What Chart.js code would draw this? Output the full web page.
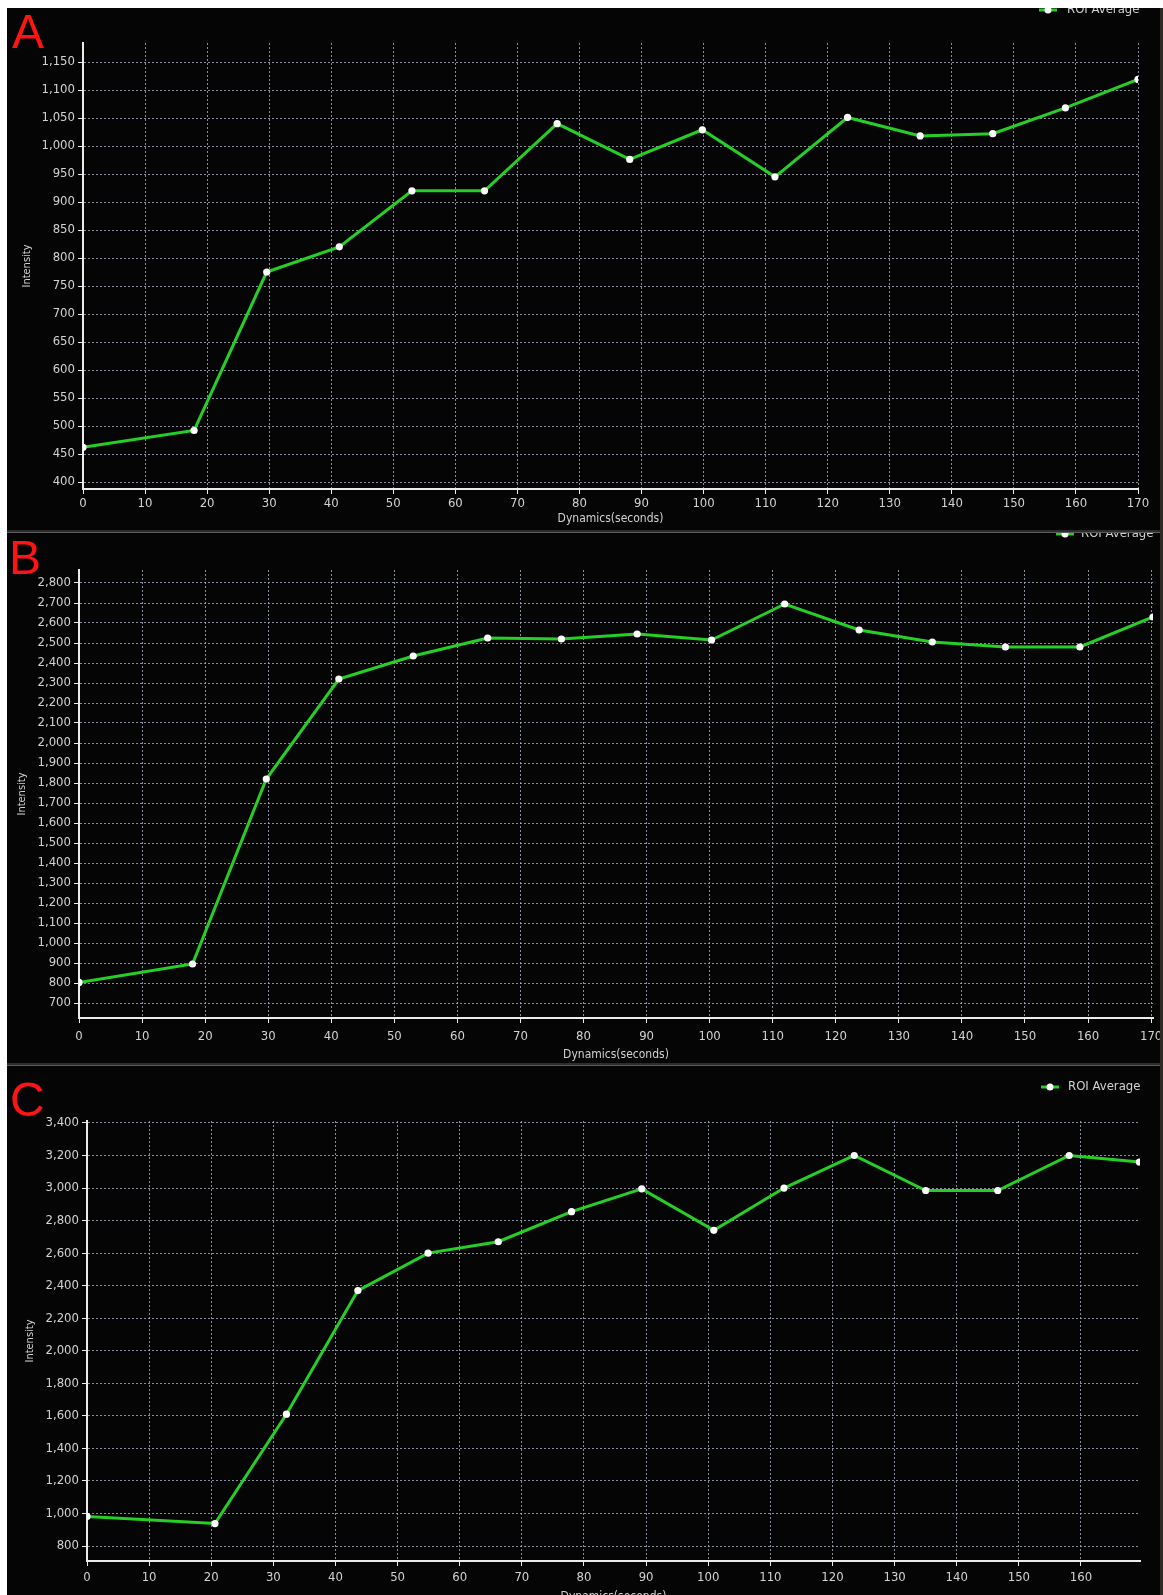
<!DOCTYPE html>
<html>
<head>
<meta charset="utf-8">
<title>ROI Average – Intensity vs Dynamics</title>
<script src="https://cdn.jsdelivr.net/npm/chart.js@4.4.1/dist/chart.umd.min.js"></script>
<style>
  html, body { margin: 0; padding: 0; background: #ffffff; }
  body { position: relative; width: 1163px; height: 1595px; overflow: hidden; }
  .panel { position: absolute; left: 7px; width: 1153px; background: #050505; overflow: hidden; }
  .panel canvas { position: absolute; left: 0; top: 0; }
  .tag { position: absolute; color: #ff1414; font: 48px "Liberation Sans", Arial, sans-serif; line-height: 1; }
  .sep { position: absolute; left: 7px; width: 1156px; height: 3px; background: #2c2c2c; border-bottom: 1px solid #5c5c5c; box-sizing: border-box; }
  .edge { position: absolute; left: 1160px; top: 8px; width: 3px; height: 1587px; background: #2e2a26; }
</style>
</head>
<body>
<div class="panel" id="pA" style="top:8px;height:522px;">
  <canvas id="cA"></canvas>
  <div class="tag" style="left:5px;top:0px;">A</div>
</div>
<div class="sep" style="top:530px;"></div>
<div class="panel" id="pB" style="top:533px;height:530px;">
  <canvas id="cB"></canvas>
  <div class="tag" style="left:2px;top:1px;">B</div>
</div>
<div class="sep" style="top:1063px;"></div>
<div class="panel" id="pC" style="top:1066px;height:529px;">
  <canvas id="cC"></canvas>
  <div class="tag" style="left:3px;top:10px;">C</div>
</div>
<div class="edge"></div>

<script>
// ---- data: time (s) of each dynamic and the ROI average intensity ----
const timesA = [0, 17.9, 29.6, 41.3, 53.0, 64.7, 76.4, 88.1, 99.8, 111.5, 123.2, 134.9, 146.6, 158.3, 170];
const roiA   = [462, 492, 775, 820, 920, 920, 1040, 976, 1029, 945, 1051, 1018, 1022, 1068, 1119];

const timesB = [0, 18.0, 29.7, 41.2, 53.0, 64.8, 76.5, 88.5, 100.3, 111.9, 123.7, 135.3, 146.9, 158.7, 170.3];
const roiB   = [803, 895, 1820, 2320, 2435, 2525, 2520, 2545, 2515, 2695, 2565, 2505, 2480, 2480, 2630];

const timesC = [0, 20.6, 32.1, 43.6, 54.9, 66.2, 78.0, 89.3, 100.9, 112.2, 123.5, 135.0, 146.6, 158.1, 169.4];
const roiC   = [982, 938, 1610, 2370, 2600, 2670, 2855, 2995, 2740, 3000, 3200, 2985, 2985, 3200, 3160];

// ---- tick labels ----
const xTicksAB = [0, 10, 20, 30, 40, 50, 60, 70, 80, 90, 100, 110, 120, 130, 140, 150, 160, 170];
const xTicksC  = [0, 10, 20, 30, 40, 50, 60, 70, 80, 90, 100, 110, 120, 130, 140, 150, 160];
const yTicksA  = [400, 450, 500, 550, 600, 650, 700, 750, 800, 850, 900, 950, 1000, 1050, 1100, 1150];
const yTicksB  = [700, 800, 900, 1000, 1100, 1200, 1300, 1400, 1500, 1600, 1700, 1800, 1900, 2000,
                  2100, 2200, 2300, 2400, 2500, 2600, 2700, 2800];
const yTicksC  = [800, 1000, 1200, 1400, 1600, 1800, 2000, 2200, 2400, 2600, 2800, 3000, 3200, 3400];

const seriesName = 'ROI Average';
const xTitle = 'Dynamics(seconds)';
const yTitle = 'Intensity';

// ---- look ----
const FONT = "'DejaVu Sans Condensed', 'Liberation Sans Narrow', 'DejaVu Sans', sans-serif";
const LINE_GREEN = '#26cf26';
const GRID = 'rgba(168,178,194,0.8)';
const AXIS = '#ececec';
const LABEL = '#d2d2d2';

// Draws the single legend entry (line + marker + name) above the plot
const roiLegend = {
  id: 'roiLegend',
  afterDraw(chart, args, opts) {
    const ds = chart.data.datasets[0];
    const ctx = chart.ctx;
    ctx.save();
    ctx.strokeStyle = ds.borderColor;
    ctx.lineWidth = 3;
    ctx.beginPath();
    ctx.moveTo(opts.x - 9, opts.y);
    ctx.lineTo(opts.x + 9, opts.y);
    ctx.stroke();
    ctx.fillStyle = '#ffffff';
    ctx.beginPath();
    ctx.arc(opts.x, opts.y, 3.5, 0, Math.PI * 2);
    ctx.fill();
    ctx.fillStyle = LABEL;
    ctx.font = '13px ' + FONT;
    ctx.textBaseline = 'middle';
    ctx.textAlign = 'left';
    ctx.fillText(ds.label, opts.textX, opts.y);
    ctx.restore();
  }
};

function buildPanel(canvasId, p) {
  const canvas = document.getElementById(canvasId);
  canvas.width = p.w;
  canvas.height = p.h;
  canvas.style.width = p.w + 'px';
  canvas.style.height = p.h + 'px';

  const points = p.times.map((t, i) => ({ x: t, y: p.values[i] }));

  return new Chart(canvas, {
    type: 'line',
    data: {
      datasets: [{
        label: seriesName,
        data: points,
        borderColor: LINE_GREEN,
        borderWidth: 3,
        pointRadius: 3.6,
        pointBackgroundColor: '#ffffff',
        pointBorderWidth: 0,
        tension: 0
      }]
    },
    options: {
      responsive: false,
      maintainAspectRatio: false,
      devicePixelRatio: 1,
      animation: false,
      events: [],
      layout: { padding: { left: p.padL, right: p.w - p.plotR, top: p.plotT, bottom: 0 } },
      plugins: {
        legend: { display: false },
        tooltip: { enabled: false },
        roiLegend: p.legend
      },
      scales: {
        x: {
          type: 'linear',
          min: 0,
          max: p.xMax,
          afterBuildTicks: axis => { axis.ticks = p.xTicks.map(v => ({ value: v })); },
          afterFit: s => { s.height = p.h - p.plotB; s.paddingLeft = 0; s.paddingRight = 0; },
          grid: {
            color: GRID, lineWidth: 1, drawTicks: true, tickLength: 5,
            tickColor: AXIS, tickWidth: 1, tickBorderDash: []
          },
          border: { display: true, color: AXIS, width: 2, dash: [2, 2] },
          ticks: {
            autoSkip: false, maxRotation: 0, padding: p.xTickPad,
            color: LABEL, font: { family: FONT, size: 13 },
            callback: v => String(v)
          },
          title: {
            display: true, text: xTitle, color: LABEL,
            font: { family: FONT, size: 12 }, padding: { top: 0, bottom: p.xTitlePad }
          }
        },
        y: {
          type: 'linear',
          min: p.yMin,
          max: p.yMax,
          afterBuildTicks: axis => { axis.ticks = p.yTicks.map(v => ({ value: v })); },
          afterFit: s => { s.width = p.plotL - p.padL; s.paddingTop = 0; s.paddingBottom = 0; },
          grid: {
            color: GRID, lineWidth: 1, drawTicks: true, tickLength: 5,
            tickColor: AXIS, tickWidth: 1, tickBorderDash: []
          },
          border: { display: true, color: AXIS, width: 2, dash: [2, 2] },
          ticks: {
            padding: 3, color: LABEL, font: { family: FONT, size: 13 },
            callback: v => Number(v).toLocaleString('en-US')
          },
          title: {
            display: true, text: yTitle, color: LABEL,
            font: { family: FONT, size: 11 }, padding: 0
          }
        }
      }
    },
    plugins: [roiLegend]
  });
}

buildPanel('cA', {
  w: 1153, h: 522,
  plotL: 76, plotR: 1131, plotT: 35, plotB: 481, padL: 14,
  times: timesA, values: roiA,
  xMax: 170, xTicks: xTicksAB, xTickPad: 2, xTitlePad: 4,
  yMin: 387.5, yMax: 1184, yTicks: yTicksA,
  legend: { x: 1041, textX: 1060, y: 2 }
});

buildPanel('cB', {
  w: 1153, h: 530,
  plotL: 72, plotR: 1146, plotT: 37, plotB: 485, padL: 9,
  times: timesB, values: roiB,
  xMax: 170.3, xTicks: xTicksAB, xTickPad: 6, xTitlePad: 1,
  yMin: 625, yMax: 2865, yTicks: yTicksB,
  legend: { x: 1058, textX: 1074, y: 1 }
});

buildPanel('cC', {
  w: 1153, h: 538,
  plotL: 80, plotR: 1133, plotT: 55, plotB: 495, padL: 17,
  times: timesC, values: roiC,
  xMax: 169.5, xTicks: xTicksC, xTickPad: 4, xTitlePad: 0,
  yMin: 708, yMax: 3412, yTicks: yTicksC,
  legend: { x: 1043, textX: 1061, y: 21 }
});
</script>
</body>
</html>
